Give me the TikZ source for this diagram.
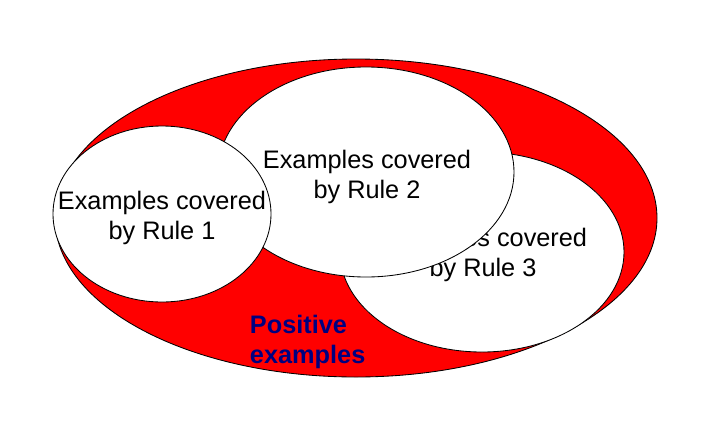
\documentclass[tikz,border=0pt]{standalone}
\usepackage{fontspec}
\setmainfont{Liberation Sans}
\definecolor{posblue}{RGB}{0,0,128}

\tikzset{
	rulebox/.style={fill=white, draw=black, line width=0.6pt},
	ruletext/.style={align=center, font=\fontsize{18}{21.5}\selectfont},
}

\begin{document}
\begin{tikzpicture}[x=0.025cm, y=-0.025cm]
	\useasboundingbox (0,0) rectangle (724,435);

	% Ejemplos positivos
	\draw [fill=red, line width=0.6pt] (356,218) ellipse (301 and 159);

	% Reglas
	\draw [rulebox] (482,252) ellipse (142 and 100);
	\node [ruletext] (r3) at (483,255) {Examples covered\\by Rule 3};

	\draw [rulebox] (366,172) ellipse (148 and 105);
	\node [ruletext] (r2) at (367,177) {Examples covered\\by Rule 2};

	\draw [rulebox] (162,214) ellipse (109 and 88);
	\node [ruletext] (r1) at (162,218) {Examples covered\\by Rule 1};

	% Etiqueta
	\node [anchor=west, align=left, text=posblue, font=\fontsize{18}{20.8}\selectfont\bfseries] (pos) at (245,342) {Positive\\examples};
\end{tikzpicture}
\end{document}
